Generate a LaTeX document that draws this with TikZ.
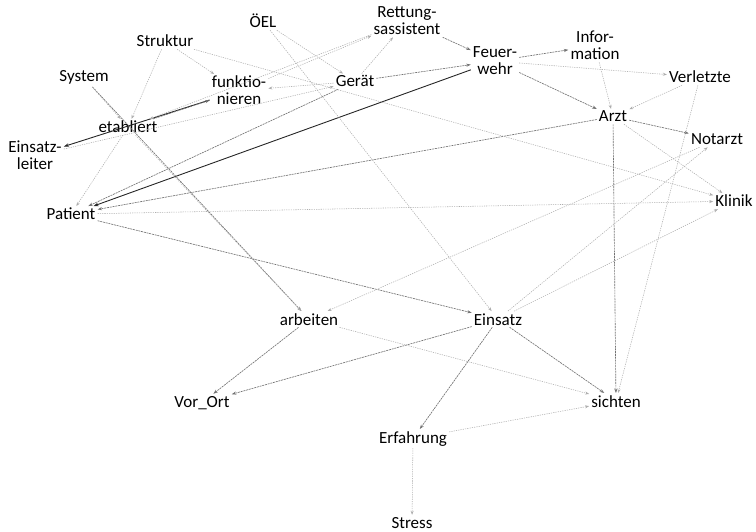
\documentclass[tikz,border=0pt]{standalone}
\usepackage{fontspec}
\setmainfont{Carlito}
\usetikzlibrary{arrows.meta}
\begin{document}
\begin{tikzpicture}[x=1pt,y=-1pt,
  lbl/.style={font=\fontsize{17}{17}\selectfont, inner sep=2pt, align=center, anchor=base},
  faint/.style={draw=black!32, line width=0.55pt, dash pattern=on 1.2pt off 1.1pt, -{Stealth[length=4pt,width=3pt]}},
  mid/.style={draw=black!55, line width=0.65pt, dash pattern=on 2pt off 0.8pt, -{Stealth[length=4.5pt,width=3.2pt]}},
  strong/.style={draw=black!85, line width=0.9pt, -{Stealth[length=5pt,width=3.5pt]}},
]
\useasboundingbox (0,0) rectangle (756,532);
% nodes (anchor base = baseline of last line)
\node[lbl] (oel) at (263,28) {ÖEL};
\node[lbl] (rett) at (407,35) {Rettung-\\sassistent};
\node[lbl] (struk) at (165,47) {Struktur};
\node[lbl] (sys) at (84,82) {System};
\node[lbl] (funkt) at (239,105) {funktio-\\nieren};
\node[lbl] (gerat) at (355,87) {Gerät};
\node[lbl] (feuer) at (495,75) {Feuer-\\wehr};
\node[lbl] (info) at (595,60) {Infor-\\mation};
\node[lbl] (verl) at (700,83) {Verletzte};
\node[lbl] (etab) at (128,133) {etabliert};
\node[lbl] (einsl) at (35,170) {Einsatz-\\leiter};
\node[lbl] (arzt) at (613,122) {Arzt};
\node[lbl] (notarzt) at (717,145) {Notarzt};
\node[lbl] (patient) at (71,220) {Patient};
\node[lbl] (klinik) at (734,207) {Klinik};
\node[lbl] (arbeiten) at (309,325) {arbeiten};
\node[lbl] (einsatz) at (498,325) {Einsatz};
\node[lbl] (vorort) at (202,407) {Vor\_Ort};
\node[lbl] (sichten) at (616,407) {sichten};
\node[lbl] (erf) at (413,443) {Erfahrung};
\node[lbl] (stress) at (412,528) {Stress};
% strong connectors
\draw[strong] (feuer) -- (patient);
\draw[strong] (funkt) -- (einsl);
\draw[mid] (sys) -- (arbeiten);
% medium connectors
\draw[mid] (arzt) -- (patient);
\draw[mid] (gerat) -- (patient);
\draw[mid] (gerat) -- (feuer);
\draw[mid] (rett) -- (feuer);
\draw[mid] (feuer) -- (info);
\draw[mid] (etab) -- (funkt);
\draw[mid] (feuer) -- (arzt);
\draw[mid] (arzt) -- (notarzt);
\draw[mid] (arzt) -- (sichten);
\draw[mid] (patient) -- (einsatz);
\draw[mid] (einsatz) -- (sichten);
\draw[mid] (einsatz) -- (vorort);
\draw[mid] (arbeiten) -- (vorort);
\draw[mid] (einsatz) -- (erf);
% faint connectors
\draw[faint] (gerat) -- (rett);
\draw[faint] (oel) -- (gerat);
\draw[faint] (gerat) -- (funkt);
\draw[faint] (struk) -- (etab);
\draw[faint] (struk) -- (funkt);
\draw[faint] (sys) -- (etab);
\draw[faint] (etab) -- (arbeiten);
\draw[faint] (info) -- (arzt);
\draw[faint] (feuer) -- (verl);
\draw[faint] (verl) -- (arzt);
\draw[faint] (verl) -- (sichten);
\draw[faint] (arzt) -- (klinik);
\draw[faint] (patient) -- (klinik);
\draw[faint] (einsatz) -- (notarzt);
\draw[faint] (einsatz) -- (klinik);
\draw[faint] (notarzt) -- (arbeiten);
\draw[faint] (arbeiten) -- (sichten);
\draw[faint] (erf) -- (sichten);
\draw[faint] (erf) -- (stress);
\draw[faint] (struk) -- (klinik);
\draw[faint] (funkt) -- (rett);
\draw[faint] (oel) -- (einsatz);
\draw[faint] (rett) -- (etab);
\draw[faint] (etab) -- (patient);
\draw[faint] (einsl) -- (gerat);
\end{tikzpicture}
\end{document}
